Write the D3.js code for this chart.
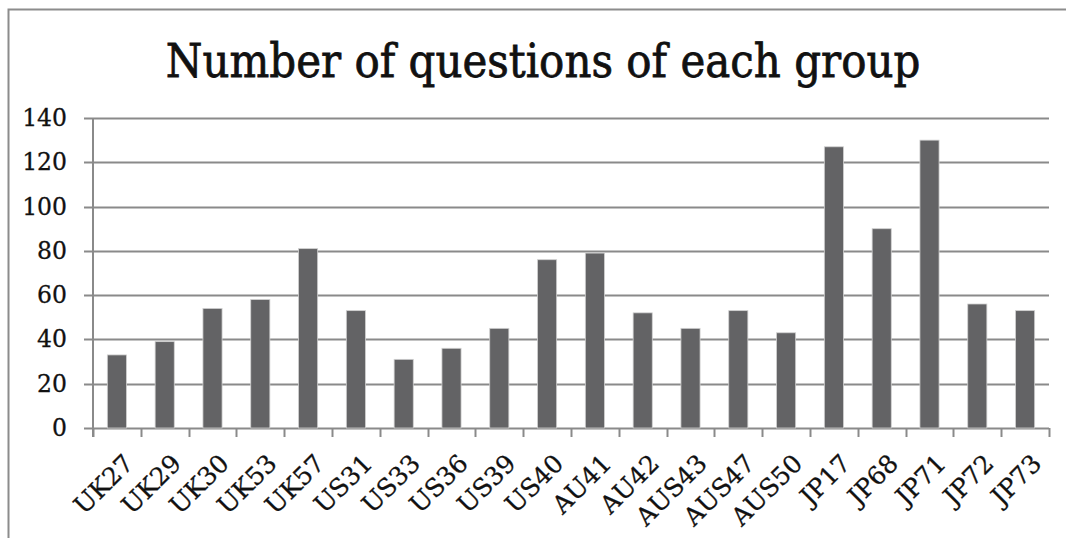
<!DOCTYPE html>
<html>
<head>
<meta charset="utf-8">
<script src="https://cdn.jsdelivr.net/npm/d3@7"></script>
<style>
  html, body { margin: 0; padding: 0; background: #fff; }
  svg { display: block; }
  text { font-family: "DejaVu Serif", "Liberation Serif", serif; fill: #111; }
</style>
</head>
<body>
<svg id="chart" width="1066" height="538"></svg>
<script>
// Question counts per group
const groups = ["UK27","UK29","UK30","UK53","UK57","US31","US33","US36","US39","US40",
                "AU41","AU42","AUS43","AUS47","AUS50","JP17","JP68","JP71","JP72","JP73"];
const questionCounts = [33, 39, 54, 58, 81, 53, 31, 36, 45, 76,
                        79, 52, 45, 53, 43, 127, 90, 130, 56, 53];
const yTicks = [0, 20, 40, 60, 80, 100, 120, 140];
const chartTitle = "Number of questions of each group";

const svg = d3.select("#chart");
const W = 1066, H = 538;
const margin = { left: 93, right: 17, top: 118, bottom: 110 };

// outer frame (top and left edges)
svg.append("path")
  .attr("d", `M8.5,${H} L8.5,9.5 L${W},9.5`)
  .attr("fill", "none")
  .attr("stroke", "#8c8c8c")
  .attr("stroke-width", 2);

svg.append("text")
  .attr("text-anchor", "middle")
  .attr("font-size", 42)
  .attr("stroke", "#111")
  .attr("stroke-width", 0.7)
  .attr("transform", "translate(543,77) scale(1,1.1)")
  .text(chartTitle);

const x = d3.scaleBand()
  .domain(groups)
  .range([margin.left, W - margin.right])
  .paddingInner(0.6)
  .paddingOuter(0.3);

const y = d3.scaleLinear()
  .domain([0, 140])
  .range([H - margin.bottom, margin.top]);

const gridColor = "#8a8a8a";

// horizontal gridlines
svg.append("g")
  .selectAll("line")
  .data(yTicks)
  .join("line")
  .attr("x1", margin.left - 9)
  .attr("x2", W - margin.right)
  .attr("y1", d => Math.round(y(d)) + 0.5)
  .attr("y2", d => Math.round(y(d)) + 0.5)
  .attr("stroke", gridColor)
  .attr("stroke-width", 2);

// bars
svg.append("g")
  .selectAll("rect")
  .data(groups)
  .join("rect")
  .attr("x", d => x(d))
  .attr("width", x.bandwidth())
  .attr("y", (d, i) => y(questionCounts[i]))
  .attr("height", (d, i) => y(0) - y(questionCounts[i]))
  .attr("fill", "#636365")
  .attr("stroke", "#d0d0d0")
  .attr("stroke-width", 0.8);

// y axis
const yAxis = svg.append("g")
  .attr("transform", `translate(${margin.left},0)`)
  .call(d3.axisLeft(y).tickValues(yTicks).tickSize(0).tickPadding(26));
yAxis.select(".domain")
  .attr("stroke", gridColor).attr("stroke-width", 2)
  .attr("d", `M0,${y(0) + 9}V${y(140)}`);
yAxis.selectAll("text")
  .attr("font-size", 23.5)
  .attr("font-family", "DejaVu Serif, serif")
  .attr("fill", "#111")
  .attr("stroke", "#111")
  .attr("stroke-width", 0.3);

// x axis: category separators and rotated labels
const sepPositions = d3.range(groups.length + 1)
  .map(i => margin.left + i * (W - margin.right - margin.left) / groups.length);
svg.append("g")
  .selectAll("line")
  .data(sepPositions)
  .join("line")
  .attr("x1", d => Math.round(d) + 0.5)
  .attr("x2", d => Math.round(d) + 0.5)
  .attr("y1", y(0))
  .attr("y2", y(0) + 9)
  .attr("stroke", gridColor)
  .attr("stroke-width", 2);

svg.append("g")
  .selectAll("text")
  .data(groups)
  .join("text")
  .attr("text-anchor", "end")
  .attr("font-size", 25)
  .attr("stroke", "#111")
  .attr("stroke-width", 0.3)
  .attr("transform", d => `translate(${x(d) + x.bandwidth() / 2 + 18},${y(0) + 37}) rotate(-45)`)
  .text(d => d);
</script>
</body>
</html>
